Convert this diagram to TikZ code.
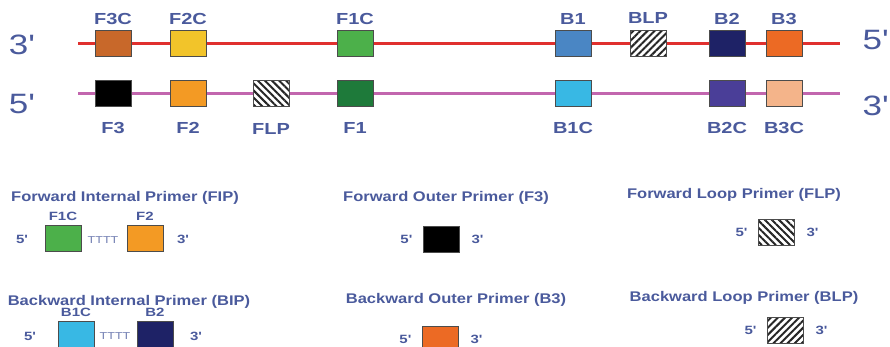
\documentclass[tikz,border=0pt]{standalone}
\usepackage{fontspec}
\setmainfont{Liberation Sans}
\usetikzlibrary{positioning, patterns.meta}
\definecolor{labelblue}{HTML}{4A5A9C}
\definecolor{strandred}{HTML}{E0302E}
\definecolor{strandpink}{HTML}{C266AE}
\definecolor{fthreec}{HTML}{C8682A}
\definecolor{ftwoc}{HTML}{F2C42A}
\definecolor{fonec}{HTML}{4CB04A}
\definecolor{bone}{HTML}{4A86C4}
\definecolor{btwo}{HTML}{1E2266}
\definecolor{bthree}{HTML}{EC6A24}
\definecolor{ftwo}{HTML}{F39A24}
\definecolor{fone}{HTML}{1E7A3A}
\definecolor{bonec}{HTML}{38B8E4}
\definecolor{btwoc}{HTML}{4A3E98}
\definecolor{bthreec}{HTML}{F4B48A}
\newcommand{\wtext}[1]{\scalebox{1.25}[1]{#1}}
\newcommand{\ttext}[1]{\scalebox{1.18}[1]{#1}}
\newcommand{\fiveend}{\wtext{5\textquotesingle}}
\newcommand{\threeend}{\wtext{3\textquotesingle}}
\tikzset{
  region/.style={draw=black!70, line width=0.8pt, minimum width=36pt,
                 minimum height=26pt, inner sep=0pt},
  hatchne/.style={preaction={fill=white}, pattern color=black!85,
                  pattern={Lines[angle=45, distance=5pt, line width=2pt]}},
  hatchnw/.style={preaction={fill=white}, pattern color=black!85,
                  pattern={Lines[angle=-45, distance=5pt, line width=2pt]}},
  seglabel/.style={text=labelblue, inner sep=0pt,
                   font=\bfseries\fontsize{16}{16}\selectfont},
  endlabel/.style={text=labelblue, inner sep=0pt,
                   font=\fontsize{28}{28}\selectfont},
  legtitle/.style={text=labelblue, inner sep=0pt,
                   font=\bfseries\fontsize{14}{14}\selectfont},
  primend/.style={text=labelblue, inner sep=0pt,
                  font=\bfseries\fontsize{12}{12}\selectfont},
  linker/.style={text=labelblue!80, inner sep=0pt,
                 font=\fontsize{10}{10}\selectfont},
}
\begin{document}
\begin{tikzpicture}[x=1pt, y=-1pt]
  \useasboundingbox (0,0) rectangle (890,346);

  % the two strands
  \coordinate (topL) at (78,43);
  \coordinate (topR) at (840,43);
  \coordinate (botL) at (78,93);
  \coordinate (botR) at (840,93);
  \draw[strandred, line width=3pt] (topL) -- (topR);
  \draw[strandpink, line width=3pt] (botL) -- (botR);

  \node[endlabel] (topfive) at (22,45) {\threeend};
  \node[endlabel] (botfive) at (22,104) {\fiveend};
  \node[endlabel, anchor=east] (topthree) at (889,40) {\fiveend};
  \node[endlabel, anchor=east] (botthree) at (889,106) {\threeend};

  % upper strand regions
  \foreach \name/\xx/\col in {F3C/113/fthreec, F2C/188/ftwoc, F1C/355/fonec,
                             B1/573/bone, B2/727/btwo, B3/784/bthree}
  {
    \node[region, fill=\col] (\name) at (\xx,43) {};
    \node[seglabel, above=5pt of \name] {\wtext{\name}};
  }
  \node[region, hatchne] (BLP) at (648,43) {};
  \node[seglabel, above=5pt of BLP] {\wtext{BLP}};

  % lower strand regions
  \foreach \name/\xx/\col in {F3/113/black, F2/188/ftwo, F1/355/fone,
                             B1C/573/bonec, B2C/727/btwoc, B3C/784/bthreec}
  {
    \node[region, fill=\col] (\name) at (\xx,93) {};
    \node[seglabel, below=16pt of \name] {\wtext{\name}};
  }
  \node[region, hatchnw] (FLP) at (271,93) {};
  \node[seglabel, below=16pt of FLP] {\wtext{FLP}};

  % forward internal primer
  \node[legtitle] (fiptitle) at (125,198) {\ttext{Forward Internal Primer (FIP)}};
  \node[region, fill=fonec] (fipa) at (63,238) {};
  \node[region, fill=ftwo] (fipb) at (145,238) {};
  \node[primend, above=4pt of fipa] {\wtext{F1C}};
  \node[primend, above=4pt of fipb] {\wtext{F2}};
  \node[linker] at (103,240) {\wtext{TTTT}};
  \node[primend] at (22,239) {\fiveend};
  \node[primend] at (183,239) {\threeend};

  % backward internal primer
  \node[legtitle] (biptitle) at (129,302) {\ttext{Backward Internal Primer (BIP)}};
  \node[region, fill=bonec] (bipa) at (76,334) {};
  \node[region, fill=btwo] (bipb) at (155,334) {};
  \node[primend, above=4pt of bipa] {\wtext{B1C}};
  \node[primend, above=4pt of bipb] {\wtext{B2}};
  \node[linker] at (115,336) {\wtext{TTTT}};
  \node[primend] at (30,336) {\fiveend};
  \node[primend] at (196,336) {\threeend};

  % outer primers
  \node[legtitle] (fotitle) at (446,198) {\ttext{Forward Outer Primer (F3)}};
  \node[region, fill=black] (fo) at (441,239) {};
  \node[primend, left=10pt of fo] {\fiveend};
  \node[primend, right=12pt of fo] {\threeend};

  \node[legtitle] (botitle) at (456,300) {\ttext{Backward Outer Primer (B3)}};
  \node[region, fill=bthree] (bo) at (440,339) {};
  \node[primend, left=10pt of bo] {\fiveend};
  \node[primend, right=12pt of bo] {\threeend};

  % loop primers
  \node[legtitle] (fltitle) at (734,195) {\ttext{Forward Loop Primer (FLP)}};
  \node[region, hatchnw] (fl) at (776,232) {};
  \node[primend, left=10pt of fl] {\fiveend};
  \node[primend, right=12pt of fl] {\threeend};

  \node[legtitle] (bltitle) at (744,298) {\ttext{Backward Loop Primer (BLP)}};
  \node[region, hatchne] (bl) at (785,330) {};
  \node[primend, left=10pt of bl] {\fiveend};
  \node[primend, right=12pt of bl] {\threeend};
\end{tikzpicture}
\end{document}
